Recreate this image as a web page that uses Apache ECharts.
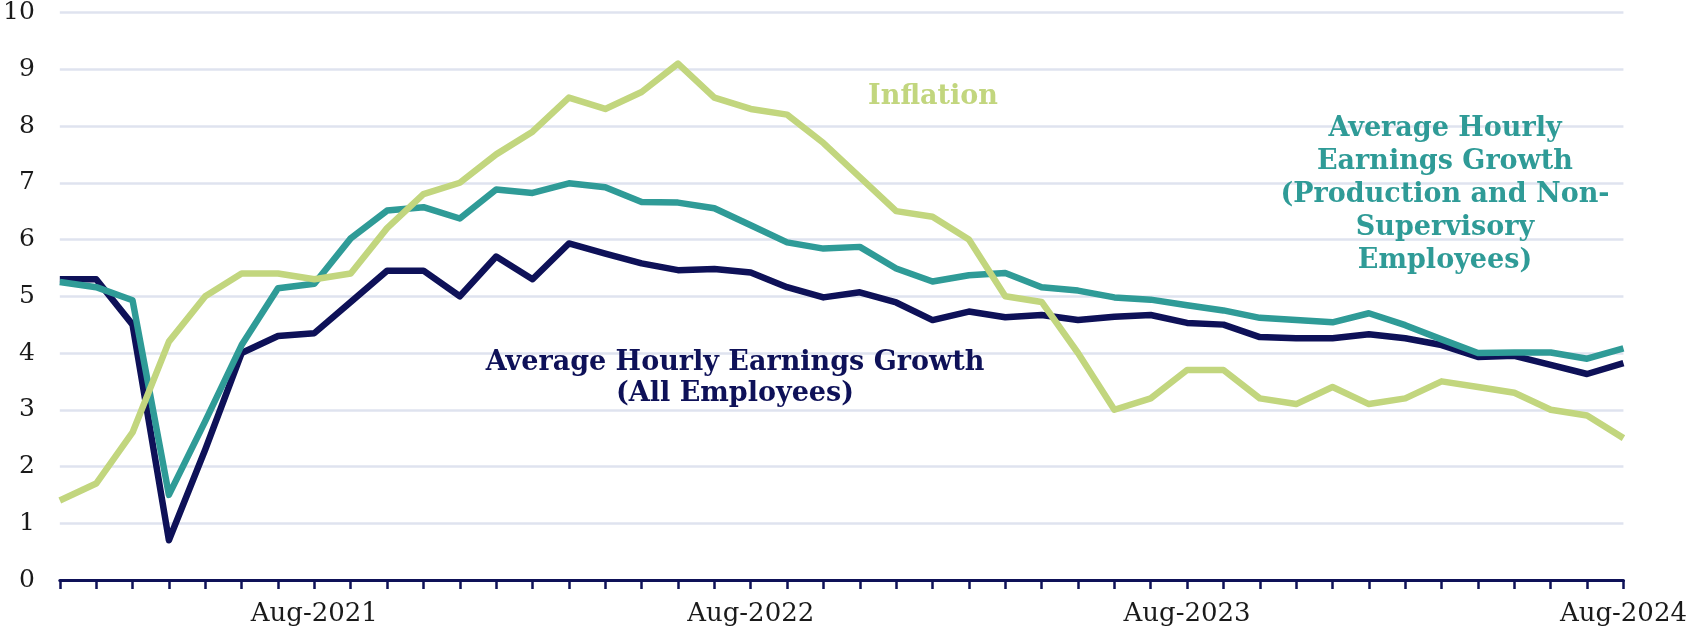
<!DOCTYPE html>
<html>
<head>
<meta charset="utf-8">
<script src="https://cdn.jsdelivr.net/npm/echarts@6/dist/echarts.min.js"></script>
<style>
  html, body { margin: 0; padding: 0; background: #fff; }
  #chart { width: 1690px; height: 633px; }
</style>
</head>
<body>
<div id="chart"></div>
<script>
// monthly, Jan-2021 .. Aug-2024
const months = [
  'Jan-2021', 'Feb-2021', 'Mar-2021', 'Apr-2021', 'May-2021', 'Jun-2021', 'Jul-2021', 'Aug-2021', 'Sep-2021', 'Oct-2021', 'Nov-2021', 'Dec-2021',
  'Jan-2022', 'Feb-2022', 'Mar-2022', 'Apr-2022', 'May-2022', 'Jun-2022', 'Jul-2022', 'Aug-2022', 'Sep-2022', 'Oct-2022', 'Nov-2022', 'Dec-2022',
  'Jan-2023', 'Feb-2023', 'Mar-2023', 'Apr-2023', 'May-2023', 'Jun-2023', 'Jul-2023', 'Aug-2023', 'Sep-2023', 'Oct-2023', 'Nov-2023', 'Dec-2023',
  'Jan-2024', 'Feb-2024', 'Mar-2024', 'Apr-2024', 'May-2024', 'Jun-2024', 'Jul-2024', 'Aug-2024',
]

const shownLabels = ['Aug-2021', 'Aug-2022', 'Aug-2023', 'Aug-2024']

const inflation = [
  1.4, 1.7, 2.6, 4.2, 5.0, 5.4, 5.4, 5.3, 5.4, 6.2, 6.8, 7.0,
  7.5, 7.9, 8.5, 8.3, 8.6, 9.1, 8.5, 8.3, 8.2, 7.7, 7.1, 6.5,
  6.4, 6.0, 5.0, 4.9, 4.0, 3.0, 3.2, 3.7, 3.7, 3.2, 3.1, 3.4,
  3.1, 3.2, 3.5, 3.4, 3.3, 3.0, 2.9, 2.5,
]

const aheAll = [
  5.3, 5.3, 4.5, 0.7, 2.3, 4.0, 4.3, 4.35, 4.9, 5.45, 5.45, 5.0,
  5.7, 5.3, 5.93, 5.75, 5.58, 5.46, 5.48, 5.42, 5.16, 4.98, 5.07, 4.89,
  4.58, 4.73, 4.63, 4.67, 4.58, 4.64, 4.67, 4.53, 4.5, 4.28, 4.26, 4.26,
  4.33, 4.26, 4.14, 3.93, 3.95, 3.79, 3.63, 3.82,
]

const aheProd = [
  5.25, 5.16, 4.93, 1.5, 2.8, 4.14, 5.14, 5.22, 6.02, 6.51, 6.57, 6.37,
  6.88, 6.82, 6.99, 6.92, 6.66, 6.65, 6.55, 6.25, 5.95, 5.84, 5.87, 5.49,
  5.26, 5.37, 5.41, 5.16, 5.1, 4.98, 4.94, 4.84, 4.75, 4.62, 4.58, 4.54,
  4.7, 4.49, 4.24, 4.0, 4.01, 4.01, 3.9, 4.08,
]

const NAVY = '#0e1158'
const TEAL = '#2f9b97'
const GREEN = '#c2d67e'
const FONT = 'DejaVu Serif'

const chart = echarts.init(document.getElementById('chart'))

const lineSeries = (name, data, color, width) => ({
  name,
  type: 'line',
  data,
  symbol: 'none',
  lineStyle: { color, width, join: 'round' },
  animation: false,
})

chart.setOption({
  backgroundColor: '#fff',
  grid: { left: 58, right: 65, top: 12, bottom: 53, containLabel: false },
  xAxis: {
    type: 'category',
    data: months,
    boundaryGap: false,
    axisLine: { lineStyle: { color: NAVY, width: 3 } },
    axisTick: { show: true, interval: 0, length: 9, lineStyle: { color: NAVY, width: 2.5 } },
    axisLabel: {
      interval: 0,
      formatter: v => (shownLabels.includes(v) ? v : ''),
      margin: 21,
      fontFamily: FONT,
      fontSize: 26,
      color: '#1a1a1a',
    },
    splitLine: { show: false },
  },
  yAxis: {
    type: 'value',
    min: 0,
    max: 10,
    interval: 1,
    axisLine: { show: false },
    axisTick: { show: false },
    axisLabel: { margin: 25, fontFamily: FONT, fontSize: 25, color: '#1a1a1a' },
    splitLine: { lineStyle: { color: '#dfe3ef', width: 2.5 } },
  },
  series: [
    lineSeries('Average Hourly Earnings Growth (All Employees)', aheAll, NAVY, 6.5),
    lineSeries('Average Hourly Earnings Growth (Production and Non-Supervisory Employees)', aheProd, TEAL, 6.5),
    lineSeries('Inflation', inflation, GREEN, 6.5),
  ],
  graphic: [
    {
      type: 'text',
      z: 100,
      style: {
        text: 'Average Hourly Earnings Growth\n(All Employees)',
        x: 735,
        y: 378,
        align: 'center',
        verticalAlign: 'middle',
        fill: NAVY,
        font: `bold 27px "${FONT}"`,
        lineHeight: 31,
      },
    },
    {
      type: 'text',
      z: 100,
      style: {
        text: 'Inflation',
        x: 933,
        y: 97,
        align: 'center',
        verticalAlign: 'middle',
        fill: GREEN,
        font: `bold 27px "${FONT}"`,
      },
    },
    {
      type: 'text',
      z: 100,
      style: {
        text: 'Average Hourly\nEarnings Growth\n(Production and Non-\nSupervisory\nEmployees)',
        x: 1445,
        y: 195,
        align: 'center',
        verticalAlign: 'middle',
        fill: TEAL,
        font: `bold 27px "${FONT}"`,
        lineHeight: 33,
      },
    },
  ],
})
</script>
</body>
</html>
